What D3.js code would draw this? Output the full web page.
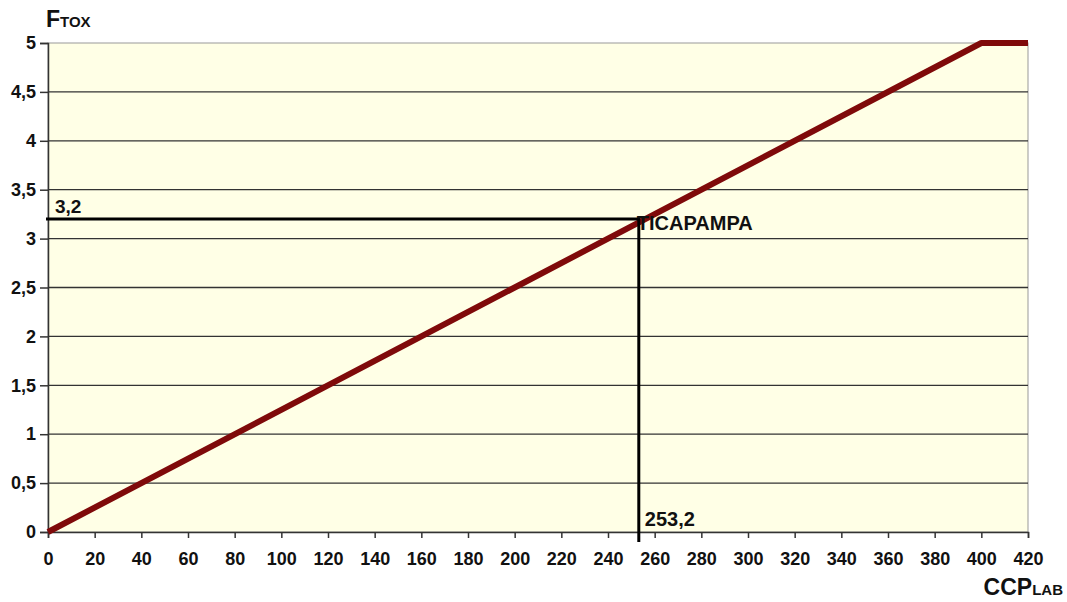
<!DOCTYPE html>
<html>
<head>
<meta charset="utf-8">
<script src="https://cdn.jsdelivr.net/npm/d3@7"></script>
<style>
body { margin: 0; background: #fff; }
text { font-family: Arial, "Liberation Sans", sans-serif; font-weight: bold; fill: #111; }
</style>
</head>
<body>
<div id="chart"></div>
<script>
// curve F_tox vs CCP_lab
var curveX = [0, 400, 420];
var curveY = [0, 5, 5];
var xTicks = d3.range(0, 421, 20);
var yTicks = [0, 0.5, 1, 1.5, 2, 2.5, 3, 3.5, 4, 4.5, 5];
var pointName = "TICAPAMPA";
var pointX = 253.2, pointY = 3.2;

var w = 1067, h = 602;
var margin = {left: 48, right: 39, top: 43, bottom: 70};

var svg = d3.select("#chart").append("svg")
    .attr("width", w).attr("height", h);

var xScale = d3.scaleLinear().domain([0, 420]).range([margin.left, w - margin.right]);
var yScale = d3.scaleLinear().domain([0, 5]).range([h - margin.bottom, margin.top]);

var fmt = function(d) { return String(d).replace(".", ","); };

// plot background
svg.append("rect")
    .attr("x", xScale(0)).attr("y", yScale(5))
    .attr("width", xScale(420) - xScale(0))
    .attr("height", yScale(0) - yScale(5))
    .attr("fill", "#ffffe6")
    .attr("stroke", "#999").attr("stroke-width", 1);

// gridlines
svg.selectAll(".grid").data(yTicks.filter(function(d) { return d > 0 && d < 5; }))
    .enter().append("line")
    .attr("x1", xScale(0)).attr("x2", xScale(420))
    .attr("y1", yScale).attr("y2", yScale)
    .attr("stroke", "#333").attr("stroke-width", 1.3);

// axes
var yAxis = svg.append("g")
    .attr("transform", "translate(" + xScale(0) + ",0)")
    .call(d3.axisLeft(yScale).tickValues(yTicks).tickSize(8).tickPadding(4).tickFormat(fmt));
var xAxis = svg.append("g")
    .attr("transform", "translate(0," + yScale(0) + ")")
    .call(d3.axisBottom(xScale).tickValues(xTicks).tickSize(6).tickPadding(14));
[xAxis, yAxis].forEach(function(a) {
    a.select(".domain").attr("stroke", "#333").attr("stroke-width", 1.5);
    a.selectAll(".tick line").attr("stroke", "#333").attr("stroke-width", 1.5);
    a.selectAll(".tick text").style("font-size", "18px").style("font-weight", "bold")
        .attr("fill", "#111");
});

// curve
var pts = curveX.map(function(d, i) { return [d, curveY[i]]; });
svg.append("path").datum(pts)
    .attr("d", d3.line().x(function(d) { return xScale(d[0]); }).y(function(d) { return yScale(d[1]); }))
    .attr("fill", "none").attr("stroke", "#7f0a0a").attr("stroke-width", 6)
    .attr("stroke-linejoin", "round");

// reading lines
svg.append("line")
    .attr("x1", xScale(0) - 2).attr("x2", xScale(pointX))
    .attr("y1", yScale(pointY)).attr("y2", yScale(pointY))
    .attr("stroke", "#000").attr("stroke-width", 3);
svg.append("line")
    .attr("x1", xScale(pointX)).attr("x2", xScale(pointX))
    .attr("y1", yScale(pointY) - 1.5).attr("y2", yScale(0) + 10)
    .attr("stroke", "#000").attr("stroke-width", 3);

svg.append("text").attr("x", xScale(0) + 7).attr("y", yScale(pointY) - 6)
    .style("font-size", "19px").text(fmt(pointY));
svg.append("text").attr("x", xScale(pointX) - 2).attr("y", yScale(pointY) + 11)
    .style("font-size", "20px").text(pointName);
svg.append("text").attr("x", xScale(pointX) + 6).attr("y", yScale(0) - 6)
    .style("font-size", "20px").text(fmt(pointX));

// axis titles
var yt = svg.append("text").attr("x", 46).attr("y", 27);
yt.append("tspan").style("font-size", "23px").text("F");
yt.append("tspan").style("font-size", "15px").text("TOX");
var xt = svg.append("text").attr("x", 1063).attr("y", 595).attr("text-anchor", "end");
xt.append("tspan").style("font-size", "23px").text("CCP");
xt.append("tspan").style("font-size", "15px").text("LAB");
</script>
</body>
</html>
